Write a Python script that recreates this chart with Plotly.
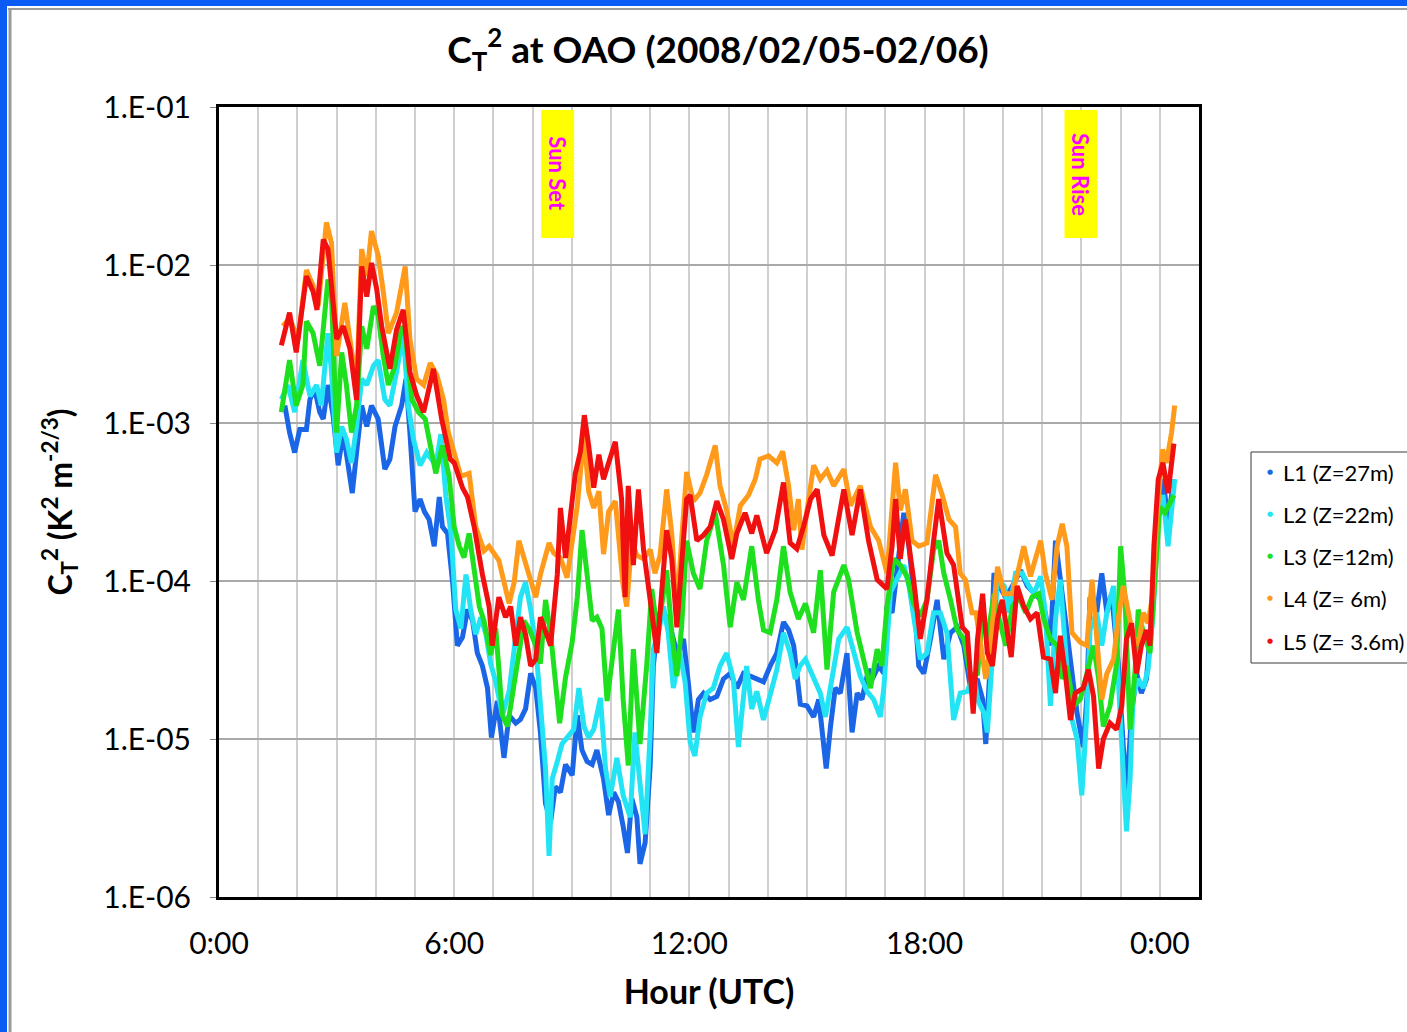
import plotly.graph_objects as go

# ---------------- data (hour UTC, C_T^2) ----------------
L1_27m = [
    (1.68, 1.29e-3), (1.80, 8.7e-4), (1.93, 6.5e-4), (2.06, 9.1e-4), (2.23, 9.1e-4), (2.32, 1.41e-3),
    (2.44, 1.64e-3), (2.57, 1.17e-3), (2.66, 1.06e-3), (2.78, 1.74e-3), (2.91, 1.12e-3), (3.04, 5.4e-4),
    (3.17, 8.7e-4), (3.30, 4.9e-4), (3.40, 3.6e-4), (3.51, 6.5e-4), (3.64, 1.29e-3), (3.77, 9.5e-4),
    (3.89, 1.29e-3), (4.06, 1.06e-3), (4.23, 5.1e-4), (4.36, 5.9e-4), (4.49, 9.5e-4), (4.66, 1.29e-3),
    (4.77, 1.9e-3), (4.87, 8.7e-4), (5.00, 2.75e-4), (5.13, 3.3e-4), (5.24, 2.75e-4), (5.36, 2.45e-4),
    (5.49, 1.66e-4), (5.62, 3.4e-4), (5.70, 2.2e-4), (5.83, 2.0e-4), (5.96, 9.8e-5), (6.08, 3.9e-5),
    (6.21, 4.4e-5), (6.34, 6.6e-5), (6.47, 5.6e-5), (6.59, 3.5e-5), (6.72, 2.9e-5), (6.85, 2.1e-5),
    (6.95, 1.02e-5), (7.10, 1.74e-5), (7.27, 7.6e-6), (7.40, 1.41e-5), (7.57, 1.26e-5), (7.69, 1.33e-5),
    (7.82, 1.55e-5), (7.95, 2.6e-5), (8.08, 2.1e-5), (8.20, 1.1e-5), (8.33, 3.9e-6), (8.46, 3.0e-6),
    (8.58, 5.0e-6), (8.71, 4.6e-6), (8.84, 6.9e-6), (9.01, 5.9e-6), (9.14, 1.41e-5), (9.26, 8.5e-6),
    (9.39, 7.2e-6), (9.52, 6.9e-6), (9.64, 8.5e-6), (9.81, 5.6e-6), (9.94, 3.3e-6), (10.07, 4.6e-6),
    (10.19, 4.0e-6), (10.31, 2.8e-6), (10.42, 1.9e-6), (10.53, 4.2e-6), (10.66, 3.2e-6), (10.74, 1.62e-6),
    (10.87, 2.2e-6), (11.00, 6.8e-6), (11.08, 2.9e-5), (11.17, 4.7e-5), (11.29, 6.9e-5), (11.42, 5.75e-5),
    (11.55, 4.7e-5), (11.68, 3.5e-5), (11.85, 4.3e-5), (11.97, 2.3e-5), (12.10, 1.1e-5), (12.23, 1.78e-5),
    (12.36, 1.95e-5), (12.53, 1.78e-5), (12.70, 1.86e-5), (12.87, 2.4e-5), (13.04, 2.6e-5), (13.21, 2.1e-5),
    (13.38, 2.6e-5), (13.55, 2.5e-5), (13.72, 2.4e-5), (13.89, 2.3e-5), (14.06, 2.9e-5), (14.23, 3.5e-5),
    (14.40, 5.5e-5), (14.53, 4.9e-5), (14.66, 3.9e-5), (14.83, 1.66e-5), (15.00, 1.62e-5), (15.17, 1.38e-5),
    (15.30, 1.78e-5), (15.43, 8.5e-6), (15.49, 6.5e-6), (15.60, 1.2e-5), (15.72, 2.1e-5), (15.85, 1.95e-5),
    (16.02, 3.5e-5), (16.15, 1.1e-5), (16.28, 1.95e-5), (16.40, 1.78e-5), (16.57, 2.75e-5), (16.70, 2.5e-5),
    (16.83, 2.9e-5), (16.96, 2.6e-5), (17.04, 6.9e-5), (17.17, 6.3e-5), (17.30, 1.26e-4), (17.47, 2.7e-4),
    (17.60, 1.66e-4), (17.72, 8.5e-5), (17.85, 2.9e-5), (17.98, 2.6e-5), (18.15, 4.3e-5), (18.32, 7.6e-5),
    (18.49, 3.2e-5), (18.66, 4.7e-5), (18.83, 5.1e-5), (19.00, 3.9e-5), (19.17, 2.1e-5), (19.34, 2.4e-5),
    (19.48, 1.78e-5), (19.56, 9.3e-6), (19.69, 3.5e-5), (19.77, 1.12e-4), (19.90, 9.3e-5), (20.07, 7.9e-5),
    (20.24, 9.3e-5), (20.45, 1.17e-4), (20.62, 9.3e-5), (20.79, 8.3e-5), (20.96, 7.6e-5), (21.08, 6.3e-5),
    (21.21, 3.9e-5), (21.34, 1.8e-4), (21.46, 1.02e-4), (21.63, 4.3e-5), (21.76, 2.4e-5), (21.89, 1.45e-5),
    (22.05, 8.9e-6), (22.14, 1.86e-5), (22.22, 7.9e-5), (22.39, 6.3e-5), (22.52, 1.12e-4), (22.65, 6.3e-5),
    (22.77, 8.3e-5), (22.94, 3.0e-5), (23.07, 8.9e-6), (23.15, 4.4e-6), (23.28, 1.45e-5), (23.41, 2.6e-5),
    (23.53, 1.95e-5), (23.66, 2.4e-5), (23.83, 7.9e-5), (23.96, 2.95e-4), (24.08, 4.4e-4), (24.21, 2.45e-4),
    (24.36, 4.4e-4),
]

L2_22m = [
    (1.59, 1.41e-3), (1.76, 1.74e-3), (1.93, 1.17e-3), (2.14, 2.5e-3), (2.32, 1.48e-3), (2.49, 1.74e-3),
    (2.61, 1.29e-3), (2.78, 3.7e-3), (2.87, 2.1e-3), (3.00, 6.5e-4), (3.13, 9.5e-4), (3.25, 7.9e-4),
    (3.38, 5.6e-4), (3.51, 9.5e-4), (3.64, 1.9e-3), (3.77, 1.74e-3), (3.94, 2.3e-3), (4.06, 2.5e-3),
    (4.23, 1.41e-3), (4.36, 1.29e-3), (4.53, 2.1e-3), (4.70, 3.7e-3), (4.83, 1.29e-3), (4.96, 7.9e-4),
    (5.13, 5.4e-4), (5.30, 6.5e-4), (5.53, 5.4e-4), (5.66, 8.5e-4), (5.79, 3.4e-4), (5.92, 2.0e-4),
    (6.04, 6.6e-5), (6.17, 5.0e-5), (6.30, 1.1e-4), (6.42, 6.6e-5), (6.55, 4.6e-5), (6.68, 5.9e-5),
    (6.81, 4.6e-5), (6.93, 3.0e-5), (7.06, 2.3e-5), (7.23, 1.41e-5), (7.40, 2.0e-5), (7.57, 4.6e-5),
    (7.69, 7.9e-5), (7.82, 9.8e-5), (7.95, 6.6e-5), (8.08, 3.9e-5), (8.20, 1.74e-5), (8.33, 6.5e-6),
    (8.42, 1.82e-6), (8.50, 5.6e-6), (8.63, 7.2e-6), (8.75, 9.3e-6), (8.88, 1.02e-5), (9.05, 1.15e-5),
    (9.18, 2.1e-5), (9.31, 1.2e-5), (9.43, 1.02e-5), (9.56, 1.15e-5), (9.73, 1.82e-5), (9.86, 6.5e-6),
    (9.98, 4.3e-6), (10.15, 7.6e-6), (10.31, 4.4e-6), (10.49, 3.2e-6), (10.61, 1.1e-5), (10.74, 5.2e-6),
    (10.87, 2.5e-6), (11.00, 1.1e-5), (11.08, 3.7e-5), (11.21, 4.7e-5), (11.34, 6.9e-5), (11.46, 4.7e-5),
    (11.59, 2.1e-5), (11.76, 3.5e-5), (11.89, 2.3e-5), (12.02, 9.5e-6), (12.14, 7.8e-6), (12.27, 1.38e-5),
    (12.44, 1.95e-5), (12.61, 2.1e-5), (12.78, 2.9e-5), (12.95, 3.5e-5), (13.12, 2.4e-5), (13.25, 8.9e-6),
    (13.38, 1.78e-5), (13.46, 2.9e-5), (13.59, 1.55e-5), (13.72, 2.0e-5), (13.89, 1.32e-5), (14.06, 1.95e-5),
    (14.23, 2.75e-5), (14.40, 4.7e-5), (14.57, 3.5e-5), (14.70, 2.4e-5), (14.82, 2.9e-5), (14.96, 3.2e-5),
    (15.13, 2.6e-5), (15.34, 1.95e-5), (15.47, 1.38e-5), (15.64, 2.4e-5), (15.81, 4.3e-5), (16.02, 5.1e-5),
    (16.19, 3.5e-5), (16.36, 2.5e-5), (16.53, 2.0e-5), (16.70, 1.78e-5), (16.87, 1.38e-5), (16.96, 2.1e-5),
    (17.13, 8.5e-5), (17.30, 1.02e-4), (17.47, 1.26e-4), (17.60, 9.3e-5), (17.77, 4.7e-5), (17.89, 3.2e-5),
    (18.06, 3.5e-5), (18.23, 6.3e-5), (18.40, 6.3e-5), (18.57, 4.7e-5), (18.74, 1.32e-5), (18.91, 1.95e-5),
    (19.09, 2.0e-5), (19.26, 2.6e-5), (19.35, 1.78e-5), (19.52, 1.45e-5), (19.60, 1.1e-5), (19.73, 3.9e-5),
    (19.86, 1.02e-4), (20.03, 9.3e-5), (20.15, 6.3e-5), (20.32, 1.12e-4), (20.49, 1.12e-4), (20.66, 9.3e-5),
    (20.79, 8.3e-5), (20.96, 1.07e-4), (21.08, 6.3e-5), (21.21, 1.62e-5), (21.34, 5.75e-5), (21.46, 1.02e-4),
    (21.59, 3.9e-5), (21.72, 1.45e-5), (21.89, 1.0e-5), (22.01, 4.4e-6), (22.14, 1.45e-5), (22.22, 4.9e-5),
    (22.39, 6.3e-5), (22.52, 3.9e-5), (22.65, 6.3e-5), (22.82, 9.3e-5), (22.94, 2.4e-5), (23.07, 7.1e-6),
    (23.15, 2.6e-6), (23.24, 5.5e-6), (23.32, 1.86e-5), (23.45, 2.4e-5), (23.58, 2.1e-5), (23.70, 2.75e-5),
    (23.83, 6.3e-5), (23.96, 2.45e-4), (24.08, 3.5e-4), (24.21, 1.66e-4), (24.30, 2.7e-4), (24.38, 4.4e-4),
]

L3_12m = [
    (1.59, 1.17e-3), (1.80, 2.5e-3), (1.97, 1.29e-3), (2.14, 1.74e-3), (2.23, 4.4e-3), (2.40, 3.7e-3),
    (2.57, 2.3e-3), (2.78, 8.1e-3), (2.87, 6.3e-3), (3.00, 8.7e-4), (3.13, 2.8e-3), (3.25, 1.74e-3),
    (3.38, 8.7e-4), (3.51, 1.29e-3), (3.64, 4.1e-3), (3.77, 2.95e-3), (3.94, 5.5e-3), (4.06, 4.8e-3),
    (4.19, 2.66e-3), (4.32, 1.74e-3), (4.49, 2.3e-3), (4.66, 4.1e-3), (4.75, 3.7e-3), (4.92, 1.41e-3),
    (5.09, 1.17e-3), (5.26, 1.06e-3), (5.53, 4.8e-4), (5.70, 7.2e-4), (5.87, 4.6e-4), (6.00, 2.2e-4),
    (6.13, 1.66e-4), (6.25, 1.41e-4), (6.38, 2.0e-4), (6.51, 1.1e-4), (6.64, 6.9e-5), (6.76, 5.6e-5),
    (6.93, 3.4e-5), (7.06, 5.0e-5), (7.23, 1.41e-5), (7.36, 1.2e-5), (7.48, 1.82e-5), (7.65, 3.4e-5),
    (7.78, 5.6e-5), (7.91, 5.0e-5), (8.08, 3.9e-5), (8.20, 3.0e-5), (8.33, 7.6e-5), (8.46, 4.6e-5),
    (8.58, 2.1e-5), (8.69, 1.26e-5), (8.84, 2.45e-5), (9.01, 4.1e-5), (9.14, 7.9e-5), (9.26, 2.1e-4),
    (9.39, 1.1e-4), (9.52, 5.6e-5), (9.64, 5.9e-5), (9.77, 5.0e-5), (9.90, 1.74e-5), (10.03, 3.2e-5),
    (10.19, 6.6e-5), (10.31, 1.78e-5), (10.44, 6.8e-6), (10.57, 3.7e-5), (10.74, 9.3e-6), (10.91, 2.9e-5),
    (11.04, 8.9e-5), (11.17, 5.1e-5), (11.29, 6.9e-5), (11.42, 1.17e-4), (11.55, 4.7e-5), (11.68, 2.5e-5),
    (11.80, 5.1e-5), (11.93, 1.8e-4), (12.10, 1.12e-4), (12.27, 8.9e-5), (12.44, 1.8e-4), (12.66, 2.7e-4),
    (12.87, 1.26e-4), (13.04, 5.1e-5), (13.21, 9.8e-5), (13.38, 7.6e-5), (13.59, 1.66e-4), (13.76, 7.6e-5),
    (13.89, 4.9e-5), (14.06, 4.7e-5), (14.23, 7.6e-5), (14.40, 1.66e-4), (14.57, 8.5e-5), (14.78, 5.75e-5),
    (14.96, 7.2e-5), (15.17, 4.7e-5), (15.34, 1.17e-4), (15.51, 2.75e-5), (15.68, 8.5e-5), (15.94, 1.26e-4),
    (16.06, 1.02e-4), (16.28, 4.7e-5), (16.49, 2.9e-5), (16.62, 2.1e-5), (16.79, 3.7e-5), (16.91, 2.9e-5),
    (17.04, 6.9e-5), (17.21, 1.38e-4), (17.38, 1.26e-4), (17.55, 1.07e-4), (17.72, 7.2e-5), (17.89, 6.0e-5),
    (18.06, 7.6e-5), (18.23, 1.58e-4), (18.36, 1.8e-4), (18.49, 1.12e-4), (18.66, 7.6e-5), (18.83, 4.9e-5),
    (19.00, 4.3e-5), (19.17, 2.5e-5), (19.35, 2.6e-5), (19.48, 6.3e-5), (19.60, 4.3e-5), (19.77, 8.3e-5),
    (19.90, 5.75e-5), (20.07, 3.9e-5), (20.24, 6.9e-5), (20.41, 7.9e-5), (20.58, 6.3e-5), (20.74, 7.9e-5),
    (20.91, 8.3e-5), (21.04, 5.75e-5), (21.21, 4.3e-5), (21.38, 3.9e-5), (21.51, 2.4e-5), (21.63, 2.9e-5),
    (21.80, 1.62e-5), (21.97, 1.78e-5), (22.14, 2.6e-5), (22.31, 3.9e-5), (22.44, 2.4e-5), (22.56, 1.2e-5),
    (22.73, 1.62e-5), (22.90, 3.0e-5), (23.00, 1.66e-4), (23.11, 7.9e-5), (23.24, 1.15e-5), (23.37, 2.75e-5),
    (23.45, 6.6e-5), (23.58, 4.7e-5), (23.75, 3.5e-5), (23.87, 1.02e-4), (24.00, 2.95e-4), (24.13, 2.7e-4),
    (24.25, 3.1e-4), (24.36, 3.5e-4),
]

L4_6m = [
    (1.63, 4.1e-3), (1.80, 4.6e-3), (2.02, 3.4e-3), (2.23, 9.3e-3), (2.40, 7.4e-3), (2.53, 5.5e-3),
    (2.74, 1.86e-2), (2.87, 1.38e-2), (3.00, 2.66e-3), (3.21, 5.75e-3), (3.34, 3.4e-3), (3.51, 1.74e-3),
    (3.64, 1.26e-2), (3.77, 8.5e-3), (3.89, 1.64e-2), (4.06, 1.15e-2), (4.19, 6.8e-3), (4.32, 3.7e-3),
    (4.53, 5.0e-3), (4.75, 9.8e-3), (4.87, 3.4e-3), (5.04, 1.9e-3), (5.22, 1.74e-3), (5.39, 2.4e-3),
    (5.56, 2.0e-3), (5.73, 1.4e-3), (5.85, 8.7e-4), (6.07, 5.4e-4), (6.17, 4.6e-4), (6.38, 4.8e-4),
    (6.55, 2.2e-4), (6.76, 1.55e-4), (6.89, 1.66e-4), (7.14, 1.35e-4), (7.27, 9.8e-5), (7.40, 7.2e-5),
    (7.53, 9.8e-5), (7.65, 1.8e-4), (7.78, 1.4e-4), (7.95, 9.8e-5), (8.08, 7.9e-5), (8.20, 1.1e-4),
    (8.42, 1.74e-4), (8.54, 1.5e-4), (8.71, 1.4e-4), (8.88, 1.05e-4), (9.01, 1.8e-4), (9.14, 3.0e-4),
    (9.31, 8.5e-4), (9.43, 3.7e-4), (9.56, 2.9e-4), (9.69, 3.7e-4), (9.81, 1.48e-4), (9.94, 2.75e-4),
    (10.11, 3.2e-4), (10.31, 9.3e-5), (10.40, 6.9e-5), (10.53, 1.8e-4), (10.66, 1.45e-4), (10.83, 1.38e-4),
    (11.00, 1.58e-4), (11.12, 1.12e-4), (11.25, 1.45e-4), (11.42, 3.8e-4), (11.55, 2.0e-4), (11.68, 6.3e-5),
    (11.80, 1.8e-4), (11.93, 4.9e-4), (12.10, 3.2e-4), (12.27, 3.6e-4), (12.44, 4.7e-4), (12.66, 7.2e-4),
    (12.78, 4.0e-4), (12.95, 2.8e-4), (13.12, 1.66e-4), (13.30, 3.0e-4), (13.51, 3.5e-4), (13.68, 4.4e-4),
    (13.80, 5.9e-4), (14.02, 6.2e-4), (14.23, 5.6e-4), (14.38, 6.6e-4), (14.53, 4.0e-4), (14.66, 2.1e-4),
    (14.78, 3.3e-4), (14.87, 1.58e-4), (15.00, 2.8e-4), (15.17, 5.4e-4), (15.34, 4.4e-4), (15.51, 5.0e-4),
    (15.68, 4.0e-4), (15.94, 5.1e-4), (16.11, 3.0e-4), (16.36, 4.0e-4), (16.62, 2.2e-4), (16.83, 1.8e-4),
    (17.04, 1.12e-4), (17.26, 5.6e-4), (17.38, 2.8e-4), (17.51, 3.8e-4), (17.68, 1.8e-4), (17.85, 1.66e-4),
    (18.06, 1.74e-4), (18.28, 4.7e-4), (18.45, 3.5e-4), (18.62, 2.45e-4), (18.79, 2.2e-4), (18.91, 1.12e-4),
    (19.04, 1.02e-4), (19.21, 6.3e-5), (19.31, 6.3e-5), (19.43, 3.9e-5), (19.56, 2.4e-5), (19.69, 4.1e-5),
    (19.86, 1.23e-4), (20.03, 8.3e-5), (20.24, 8.3e-5), (20.41, 1.23e-4), (20.53, 1.66e-4), (20.70, 1.07e-4),
    (20.83, 1.38e-4), (20.96, 1.8e-4), (21.08, 1.12e-4), (21.25, 7.6e-5), (21.38, 1.66e-4), (21.51, 2.3e-4),
    (21.63, 1.66e-4), (21.76, 4.7e-5), (21.97, 4.1e-5), (22.14, 3.9e-5), (22.27, 1.02e-4), (22.39, 4.3e-5),
    (22.52, 1.78e-5), (22.65, 2.6e-5), (22.82, 3.2e-5), (22.94, 5.75e-5), (23.07, 9.3e-5), (23.20, 6.3e-5),
    (23.32, 4.5e-5), (23.45, 3.9e-5), (23.58, 6.3e-5), (23.70, 5.4e-5), (23.81, 7.9e-5), (23.92, 2.45e-4),
    (24.07, 6.8e-4), (24.17, 5.6e-4), (24.30, 8.7e-4), (24.38, 1.29e-3),
]

L5_3p6m = [
    (1.59, 3.1e-3), (1.80, 5.0e-3), (1.97, 2.8e-3), (2.23, 8.5e-3), (2.40, 6.8e-3), (2.50, 5.2e-3),
    (2.66, 1.45e-2), (2.78, 1.26e-2), (3.00, 3.4e-3), (3.17, 4.1e-3), (3.34, 2.95e-3), (3.51, 1.4e-3),
    (3.64, 9.8e-3), (3.77, 6.3e-3), (3.89, 1.03e-2), (4.02, 7.1e-3), (4.15, 4.1e-3), (4.36, 2.2e-3),
    (4.53, 3.9e-3), (4.70, 5.2e-3), (4.87, 2.1e-3), (5.04, 1.5e-3), (5.22, 1.17e-3), (5.47, 2.2e-3),
    (5.68, 1.06e-3), (5.90, 5.9e-4), (6.00, 5.6e-4), (6.21, 3.9e-4), (6.34, 3.4e-4), (6.51, 2.2e-4),
    (6.72, 1.1e-4), (6.89, 6.9e-5), (6.97, 3.9e-5), (7.14, 7.9e-5), (7.31, 5.9e-5), (7.44, 6.9e-5),
    (7.57, 3.9e-5), (7.69, 5.9e-5), (7.82, 4.6e-5), (7.95, 2.9e-5), (8.08, 3.2e-5), (8.20, 5.9e-5),
    (8.33, 4.8e-5), (8.46, 3.9e-5), (8.63, 1.1e-4), (8.71, 2.9e-4), (8.84, 1.4e-4), (8.97, 2.75e-4),
    (9.09, 4.8e-4), (9.22, 6.6e-4), (9.32, 1.12e-3), (9.43, 7.2e-4), (9.56, 3.9e-4), (9.69, 6.3e-4),
    (9.81, 4.4e-4), (9.94, 5.6e-4), (10.11, 7.6e-4), (10.27, 3.3e-4), (10.36, 7.9e-5), (10.44, 4.0e-4),
    (10.57, 1.26e-4), (10.70, 3.8e-4), (10.83, 1.58e-4), (11.00, 7.6e-5), (11.17, 3.5e-5), (11.29, 8.3e-5),
    (11.42, 2.1e-4), (11.55, 1.38e-4), (11.68, 5.1e-5), (11.80, 1.26e-4), (11.93, 3.3e-4), (12.02, 3.5e-4),
    (12.19, 1.8e-4), (12.36, 1.95e-4), (12.53, 2.2e-4), (12.70, 3.2e-4), (12.87, 2.45e-4), (13.08, 1.38e-4),
    (13.21, 2.0e-4), (13.42, 2.7e-4), (13.59, 2.0e-4), (13.72, 2.6e-4), (13.97, 1.5e-4), (14.19, 2.1e-4),
    (14.40, 4.2e-4), (14.57, 1.74e-4), (14.74, 1.6e-4), (14.91, 2.2e-4), (15.09, 3.3e-4), (15.26, 3.8e-4),
    (15.43, 1.95e-4), (15.64, 1.45e-4), (15.77, 2.2e-4), (15.94, 3.8e-4), (16.15, 1.95e-4), (16.36, 3.8e-4),
    (16.57, 1.8e-4), (16.79, 1.02e-4), (17.04, 8.9e-5), (17.17, 1.66e-4), (17.26, 3.3e-4), (17.38, 1.38e-4),
    (17.51, 2.45e-4), (17.72, 1.02e-4), (17.89, 4.3e-5), (18.06, 7.6e-5), (18.23, 1.8e-4), (18.36, 3.3e-4),
    (18.57, 1.5e-4), (18.74, 1.26e-4), (18.96, 5.1e-5), (19.09, 4.7e-5), (19.24, 1.45e-5), (19.35, 4.3e-5),
    (19.48, 8.3e-5), (19.60, 3.5e-5), (19.73, 2.9e-5), (19.86, 5.75e-5), (19.98, 7.6e-5), (20.11, 4.7e-5),
    (20.21, 3.3e-5), (20.36, 9.3e-5), (20.53, 6.9e-5), (20.70, 5.75e-5), (20.87, 6.3e-5), (21.03, 3.3e-5),
    (21.21, 3.2e-5), (21.34, 1.95e-5), (21.46, 4.5e-5), (21.59, 2.6e-5), (21.72, 1.32e-5), (21.84, 1.95e-5),
    (22.05, 2.1e-5), (22.18, 2.75e-5), (22.31, 1.86e-5), (22.44, 6.5e-6), (22.56, 1.0e-5), (22.73, 1.26e-5),
    (22.90, 1.15e-5), (23.03, 1.62e-5), (23.15, 4.3e-5), (23.28, 5.4e-5), (23.41, 2.6e-5), (23.53, 3.9e-5),
    (23.66, 4.9e-5), (23.75, 3.9e-5), (23.85, 1.66e-4), (23.96, 4.4e-4), (24.08, 5.6e-4), (24.21, 3.6e-4),
    (24.36, 7.4e-4),
]

SERIES_NAMES = ["L1 (Z=27m)", "L2 (Z=22m)", "L3 (Z=12m)", "L4 (Z= 6m)", "L5 (Z= 3.6m)"]
SERIES_DATA = [L1_27m, L2_22m, L3_12m, L4_6m, L5_3p6m]
SERIES_COLORS = ["#1a66e6", "#22e4f4", "#1ee01e", "#ff9a1a", "#f01010"]

X_TICK_HOURS = list(range(0, 26))
X_TICK_LABELS = {0: "0:00", 6: "6:00", 12: "12:00", 18: "18:00", 24: "0:00"}
Y_TICK_VALUES = [1e-6, 1e-5, 1e-4, 1e-3, 1e-2, 1e-1]
Y_TICK_LABELS = ["1.E-06", "1.E-05", "1.E-04", "1.E-03", "1.E-02", "1.E-01"]

SUNSET_H = 8.64
SUNRISE_H = 21.99

FONT = "Lato"

# ---------------- figure ----------------
fig = go.Figure()

for name, data, color in zip(SERIES_NAMES, SERIES_DATA, SERIES_COLORS):
    hours = [p[0] for p in data]
    vals = [p[1] for p in data]
    fig.add_trace(go.Scatter(
        x=hours, y=vals, mode="lines", name=name,
        line=dict(color=color, width=5), showlegend=False, hoverinfo="x+y+name",
    ))

W, H = 1407, 1032
L, R, T, B = 219, 208, 107, 135
PW, PH = W - L - R, H - T - B


def px_x(px):
    return (px - L) / PW


def px_y(py):
    return (H - B - py) / PH


shapes = [
    # window frame (blue strips and grey inner edge)
    dict(type="rect", xref="paper", yref="paper", x0=px_x(0), x1=px_x(7), y0=px_y(H), y1=px_y(0),
         fillcolor="#0a5cf5", line=dict(width=0), layer="above"),
    dict(type="rect", xref="paper", yref="paper", x0=px_x(0), x1=px_x(W), y0=px_y(6), y1=px_y(0),
         fillcolor="#0a5cf5", line=dict(width=0), layer="above"),
    dict(type="line", xref="paper", yref="paper", x0=px_x(10), x1=px_x(10), y0=px_y(H), y1=px_y(8),
         line=dict(color="#9a9a9a", width=3), layer="above"),
    dict(type="line", xref="paper", yref="paper", x0=px_x(8), x1=px_x(W), y0=px_y(9), y1=px_y(9),
         line=dict(color="#9a9a9a", width=2), layer="above"),
    # legend box
    dict(type="rect", xref="paper", yref="paper", x0=px_x(1251), x1=px_x(1440), y0=px_y(663), y1=px_y(452),
         fillcolor="white", line=dict(color="#3a3a3a", width=1), layer="above"),
]
for hcenter in (SUNSET_H, SUNRISE_H):
    shapes.append(dict(type="rect", xref="x", yref="paper", x0=hcenter - 0.42, x1=hcenter + 0.42,
                       y0=px_y(238), y1=px_y(110), fillcolor="#ffff00", line=dict(width=0),
                       layer="above"))

annotations = [
    dict(x=SUNSET_H, y=px_y(174), xref="x", yref="paper", text="<b>Sun Set</b>", textangle=90,
         xanchor="center", yanchor="middle",
         showarrow=False, font=dict(family=FONT, size=22, color="#ff00ff")),
    dict(x=SUNRISE_H, y=px_y(174), xref="x", yref="paper", text="<b>Sun Rise</b>", textangle=90,
         xanchor="center", yanchor="middle",
         showarrow=False, font=dict(family=FONT, size=22, color="#ff00ff")),
]

# hand-drawn legend (dot + label) matching the reference box
LEGEND_ROWS_PX = [472, 514, 556, 598, 641]
for name, color, row in zip(SERIES_NAMES, SERIES_COLORS, LEGEND_ROWS_PX):
    annotations.append(dict(x=px_x(1270), y=px_y(row), xref="paper", yref="paper", text="●",
                            xanchor="center", yanchor="middle", showarrow=False,
                            font=dict(family="DejaVu Sans", size=7, color=color)))
    annotations.append(dict(x=px_x(1281), y=px_y(row), xref="paper", yref="paper", text=name,
                            xanchor="left", yanchor="middle", showarrow=False,
                            font=dict(family=FONT, size=22, color="black")))

fig.update_layout(
    width=W, height=H,
    margin=dict(l=L, r=R, t=T, b=B, autoexpand=False),
    paper_bgcolor="white", plot_bgcolor="white",
    font=dict(family=FONT, color="black"),
    title=dict(text="<b>C<sub>T</sub><sup>2</sup> at OAO (2008/02/05-02/06)</b>",
               x=px_x(718), xref="paper", xanchor="center",
               y=1 - 50 / H, yref="container", yanchor="middle",
               font=dict(family=FONT, size=37, color="black")),
    xaxis=dict(
        range=[0, 25], tickmode="array", tickvals=X_TICK_HOURS,
        ticktext=[X_TICK_LABELS.get(h, "") for h in X_TICK_HOURS],
        showgrid=True, gridcolor="#cfcfcf", gridwidth=2,
        showline=True, linecolor="black", linewidth=3, mirror=True,
        ticks="", tickfont=dict(family=FONT, size=30, color="black"),
        ticklabelstandoff=18, zeroline=False,
        title=dict(text="<b>Hour (UTC)</b>", font=dict(family=FONT, size=34, color="black"), standoff=22),
    ),
    yaxis=dict(
        type="log", range=[-6, -1], tickmode="array", tickvals=Y_TICK_VALUES, ticktext=Y_TICK_LABELS,
        showgrid=True, gridcolor="#a9a9a9", gridwidth=1.5,
        showline=True, linecolor="black", linewidth=3, mirror=True,
        ticks="outside", ticklen=6, tickcolor="#888888",
        tickfont=dict(family=FONT, size=30, color="black"), ticklabelstandoff=13,
        title=dict(text="<b>C<sub>T</sub><sup>2</sup> (K<sup>2</sup> m<sup>-2/3</sup>)</b>",
                   font=dict(family=FONT, size=32, color="black"), standoff=22),
    ),
    shapes=shapes,
    annotations=annotations,
    showlegend=False,
)

fig.write_html(
    "out.html",
    config={"displayModeBar": False},
    post_script="document.body.style.margin='0px';document.body.style.overflow='hidden';",
)
